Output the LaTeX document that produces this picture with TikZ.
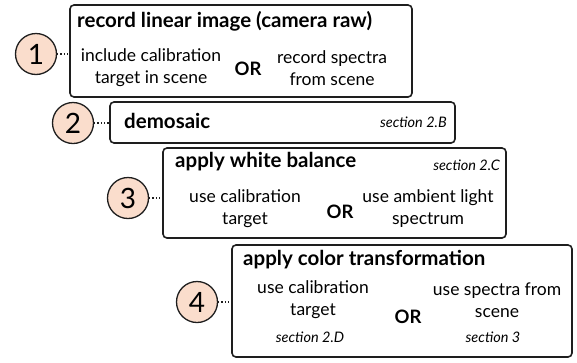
\documentclass[tikz,border=0pt]{standalone}
\usepackage{fontspec}
\setmainfont{Lato}
\definecolor{peach}{RGB}{250,221,204}
\definecolor{ink}{RGB}{30,30,30}
\tikzset{
  stepbox/.style={draw=ink, line width=1.6pt, rounded corners=4pt, inner sep=0pt},
  stepnum/.style={circle, draw=ink, line width=1.3pt, fill=peach, inner sep=0pt,
    minimum size=41pt, font=\fontsize{28}{28}\selectfont},
  title/.style={font=\fontsize{20.5}{20}\selectfont\bfseries, anchor=west, inner sep=0pt},
  choice/.style={font=\fontsize{17.5}{22}\selectfont, align=center, inner sep=0pt},
  ortext/.style={font=\fontsize{18.5}{18}\selectfont\bfseries, inner sep=0pt},
  sect/.style={font=\fontsize{14.5}{14}\selectfont\itshape, inner sep=0pt},
  link/.style={draw=ink, line width=1.3pt, dotted}
}
\begin{document}
\begin{tikzpicture}[x=1pt, y=-1pt]
        \useasboundingbox (0,0) rectangle (577,362);

        % frames
        \begin{scope}[every node/.style={stepbox}]
          \node[minimum width=342pt, minimum height=92pt]  (box1) at (241,51)    {};
          \node[minimum width=345pt, minimum height=41pt]  (box2) at (282.5,122.5) {};
          \node[minimum width=343pt, minimum height=90pt]  (box3) at (334.5,193) {};
          \node[minimum width=340pt, minimum height=112pt] (box4) at (402,301)   {};
        \end{scope}

        % numbers
        \begin{scope}[every node/.style={stepnum}]
          \node (n1) at (36,54)  {1};
          \node (n2) at (73,123) {2};
          \node (n3) at (128,198) {3};
          \node (n4) at (197,302) {4};
        \end{scope}

        \path[link] (n1.east) -- (n1.east -| box1.west);
        \path[link] (n2.east) -- (n2.east -| box2.west);
        \path[link] (n3.east) -- (n3.east -| box3.west);
        \path[link] (n4.east) -- (n4.east -| box4.west);

        % step 1
        \node[title] (t1) at (77,21) {record linear image (camera raw)};
        \node[choice] (a1) at (151,68) {include calibration\\target in scene};
        \node[ortext] (o1) at (248,69) {OR};
        \node[choice] (b1) at (332,68) {record spectra\\from scene};

        % step 2
        \node[title] (t2) at (124,121) {demosaic};
        \node[sect, anchor=east] (s2) at (447,122) {section 2.B};

        % step 3
        \node[title] (t3) at (175,162) {apply white balance};
        \node[sect, anchor=east] (s3) at (500,165) {section 2.C};
        \node[choice] (a3) at (245,209) {use calibration\\target};
        \node[ortext] (o3) at (340,212) {OR};
        \node[choice] (b3) at (428,209) {use ambient light\\spectrum};

        % step 4
        \node[title] (t4) at (243,260) {apply color transformation};
        \node[choice] (a4) at (313,300) {use calibration\\target};
        \node[ortext] (o4) at (408,317) {OR};
        \node[choice] (b4) at (497,300) {use spectra from\\scene};
        \node[sect] (s4a) at (310,337) {section 2.D};
        \node[sect] (s4b) at (493,337) {section 3};

      \end{tikzpicture}
\end{document}
